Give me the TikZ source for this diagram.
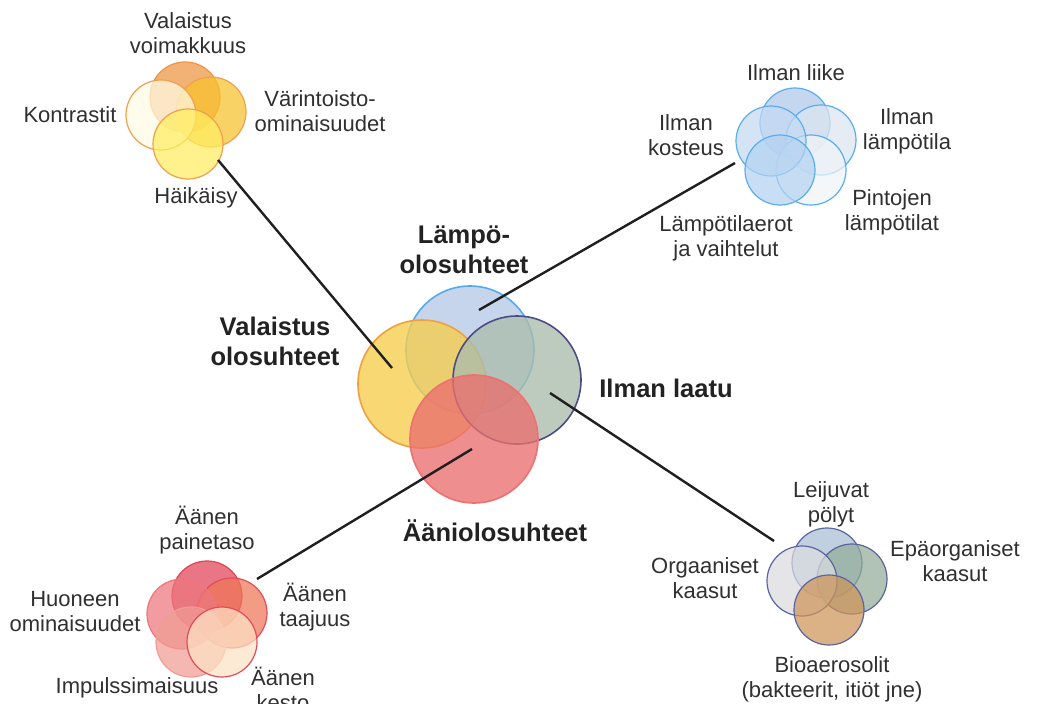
\documentclass[tikz,border=0pt]{standalone}
\usepackage{fontspec}
\setmainfont{Liberation Sans}
\definecolor{txt}{HTML}{303030}
\definecolor{txtb}{HTML}{222222}
\definecolor{cblue}{HTML}{B6CAE7}
\definecolor{cblueS}{HTML}{55AAEE}
\definecolor{cyel}{HTML}{F6CE4C}
\definecolor{cyelS}{HTML}{F0A040}
\definecolor{cgreen}{HTML}{ABBDAC}
\definecolor{cgreenS}{HTML}{4C4C84}
\definecolor{cred}{HTML}{EA6F6F}
\definecolor{credS}{HTML}{EE7070}
% top-left cluster
\definecolor{lo}{HTML}{EE9440}
\definecolor{lr}{HTML}{F8C22C}
\definecolor{ll}{HTML}{FFFBE4}
\definecolor{lb}{HTML}{FFEE60}
\definecolor{lS}{HTML}{F0A050}
% top-right cluster
\definecolor{ta}{HTML}{B0C8EA}
\definecolor{tb}{HTML}{DCE6F0}
\definecolor{tc}{HTML}{C4DAF2}
\definecolor{td}{HTML}{B4D2F2}
\definecolor{te}{HTML}{F0F4F7}
\definecolor{tS}{HTML}{5AAEF0}
% bottom-left cluster
\definecolor{ra}{HTML}{E04256}
\definecolor{rb}{HTML}{EE7656}
\definecolor{rc}{HTML}{EE767E}
\definecolor{rd}{HTML}{F09C94}
\definecolor{re}{HTML}{FDE2C4}
\definecolor{rS}{HTML}{E24C5C}
% bottom-right cluster
\definecolor{ga}{HTML}{A8BED4}
\definecolor{gb}{HTML}{92AC98}
\definecolor{gc}{HTML}{DCDCE0}
\definecolor{gd}{HTML}{CE9458}
\definecolor{gS}{HTML}{5A64A0}
\tikzset{
  lbl/.style={font=\fontsize{22}{25}\selectfont, text=txt, align=center, inner sep=0pt},
  big/.style={font=\bfseries\fontsize{25.5}{30}\selectfont, text=txtb, align=center, inner sep=0pt},
  bigc/.style={circle, minimum size=128pt, inner sep=0pt, line width=1.6pt, fill opacity=0.78},
  smc/.style={circle, minimum size=70pt, inner sep=0pt, line width=1.2pt, fill opacity=0.72},
  conn/.style={line width=2.4pt, draw=black!88}
}
\begin{document}
\begin{tikzpicture}[x=1pt,y=-1pt]
\useasboundingbox (0,0) rectangle (1037,704);
\clip (0,0) rectangle (1037,704);
\fill[white] (0,0) rectangle (1037,704);

% ---- central circles
\node[bigc, fill=cblue, draw=cblueS] (cB) at (470,350) {};
\node[bigc, fill=cyel, draw=cyelS] (cY) at (422,384) {};
\node[bigc, fill=cgreen, draw=cgreenS] (cG) at (517,380) {};
\node[bigc, fill=cred, draw=credS] (cR) at (474,439) {};

% ---- top-left cluster (valaistus)
\node[smc, fill=lo, draw=lo] (l1) at (185,97) {};
\node[smc, fill=lr, draw=lS] (l2) at (211,112) {};
\node[smc, fill=ll, draw=lS] (l3) at (161,115) {};
\node[smc, fill=lb, draw=lS] (l4) at (188,144) {};

% ---- top-right cluster (lampo)
\node[smc, fill=ta, draw=tS] (t1) at (795,123) {};
\node[smc, fill=tb, draw=tS] (t2) at (821,140) {};
\node[smc, fill=te, draw=tS] (t5) at (811,170) {};
\node[smc, fill=tc, draw=tS] (t3) at (771,141) {};
\node[smc, fill=td, draw=tS] (t4) at (780,170) {};

% ---- bottom-left cluster (aani)
\node[smc, fill=ra, draw=ra] (r1) at (207,596) {};
\node[smc, fill=rb, draw=rS] (r2) at (232,613) {};
\node[smc, fill=rc, draw=rc] (r3) at (182,614) {};
\node[smc, fill=rd, draw=rd] (r4) at (191,642) {};
\node[smc, fill=re, draw=rS] (r5) at (222,642) {};

% ---- bottom-right cluster (ilman laatu)
\node[smc, fill=ga, draw=gS] (g1) at (827,563) {};
\node[smc, fill=gb, draw=gS] (g2) at (852,579) {};
\node[smc, fill=gc, draw=gS] (g3) at (802,581) {};
\node[smc, fill=gd, draw=gS] (g4) at (829,610) {};

% ---- connectors
\coordinate (c1a) at (392,368);
\coordinate (c2a) at (479,310);
\coordinate (c3a) at (472,449);
\coordinate (c4a) at (550,393);
\coordinate (c1b) at (218,160);
\coordinate (c2b) at (735,163);
\coordinate (c3b) at (257,579);
\coordinate (c4b) at (774,541);
\draw[conn] (c1a) -- (c1b);
\draw[conn] (c2a) -- (c2b);
\draw[conn] (c3a) -- (c3b);
\draw[conn] (c4a) -- (c4b);

% ---- central labels
\node[big] (Llampo) at (464,250) {Lämpö-\\olosuhteet};
\node[big] (Lval) at (275,341) {Valaistus\\olosuhteet};
\node[big] (Lilma) at (666,388) {Ilman laatu};
\node[big] (Laani) at (495,531) {Ääniolosuhteet};

% ---- top-left labels
\node[lbl] (a1) at (188,33) {Valaistus\\voimakkuus};
\node[lbl] (a2) at (70,115) {Kontrastit};
\node[lbl] (a3) at (320,111) {Värintoisto-\\ominaisuudet};
\node[lbl] (a4) at (196,198) {Häikäisy};

% ---- top-right labels
\node[lbl] (b1) at (796,73) {Ilman liike};
\node[lbl] (b2) at (686,135) {Ilman\\kosteus};
\node[lbl] (b3) at (907,131) {Ilman\\lämpötila};
\node[lbl] (b4) at (892,212) {Pintojen\\lämpötilat};
\node[lbl] (b5) at (726,238) {Lämpötilaerot\\ja vaihtelut};

% ---- bottom-left labels
\node[lbl] (d1) at (207,530) {Äänen\\painetaso};
\node[lbl] (d2) at (75,612) {Huoneen\\ominaisuudet};
\node[lbl] (d3) at (315,607) {Äänen\\taajuus};
\node[lbl] (d4) at (137,688) {Impulssimaisuus};
\node[lbl] (d5) at (283,689) {Äänen\\kesto};

% ---- bottom-right labels
\node[lbl] (e1) at (831,504) {Leijuvat\\pölyt};
\node[lbl] (e2) at (955,561) {Epäorganiset\\kaasut};
\node[lbl] (e3) at (705,578) {Orgaaniset\\kaasut};
\node[lbl] (e4) at (832,679) {Bioaerosolit\\(bakteerit, itiöt jne)};
\end{tikzpicture}
\end{document}
